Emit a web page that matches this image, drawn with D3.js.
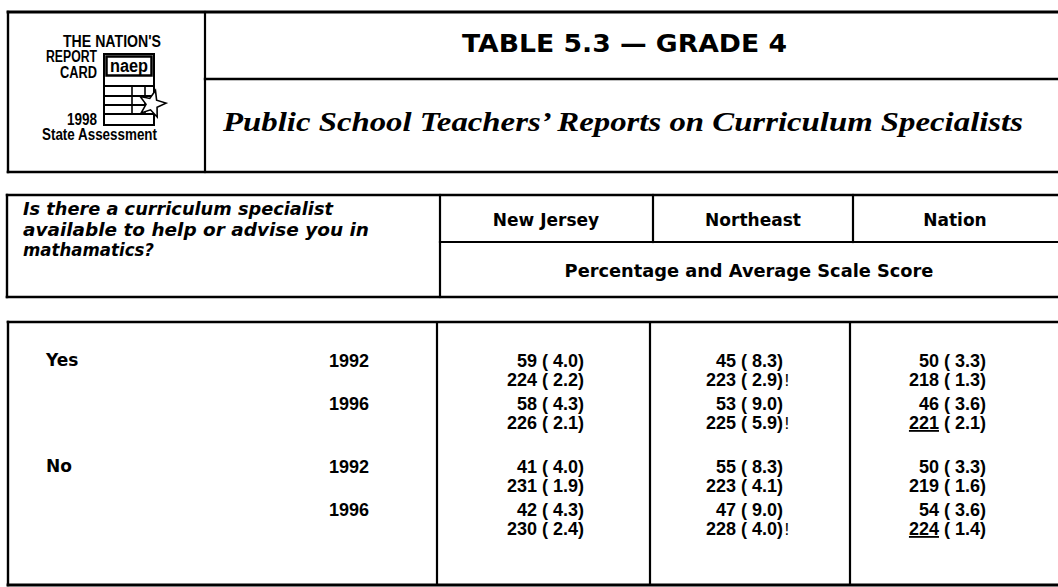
<!DOCTYPE html>
<html><head><meta charset="utf-8">
<script src="https://cdn.jsdelivr.net/npm/d3@7"></script>
<style>
html,body{margin:0;padding:0;background:#fff;}
svg{display:block;}
text{white-space:pre;fill:#000;}
</style>
</head><body>
<svg id="c" width="1058" height="587"></svg>
<script>
// ---------- data ----------
const title = "TABLE 5.3 — GRADE 4";
const subtitle = "Public School Teachers’ Reports on Curriculum Specialists";
const logoLines = ["THE NATION'S", "REPORT", "CARD", "1998", "State Assessment"];
const questionLines = ["Is there a curriculum specialist", "available to help or advise you in", "mathamatics?"];
const regions = ["New Jersey", "Northeast", "Nation"];
const measureLabel = "Percentage and Average Scale Score";
const responses = ["Yes", "No"];
const years = ["1992", "1996"];
// row order: Yes-1992, Yes-1996, No-1992, No-1996
const pctNJ     = [59, 58, 41, 42];
const pctSeNJ   = [4.0, 4.3, 4.0, 4.3];
const scoreNJ   = [224, 226, 231, 230];
const scoreSeNJ = [2.2, 2.1, 1.9, 2.4];
const pctNE     = [45, 53, 55, 47];
const pctSeNE   = [8.3, 9.0, 8.3, 9.0];
const scoreNE   = [223, 225, 223, 228];
const scoreSeNE = [2.9, 5.9, 4.1, 4.0];
const flagNE    = [true, true, false, true];
const pctNA     = [50, 46, 50, 54];
const pctSeNA   = [3.3, 3.6, 3.3, 3.6];
const scoreNA   = [218, 221, 219, 224];
const scoreSeNA = [1.3, 2.1, 1.6, 1.4];
const underlineNA = [false, true, false, true];

const rows = [];
responses.forEach(r => years.forEach(y => rows.push({resp: r, year: y})));
const none4 = [false, false, false, false];
const table = [
  {region: "New Jersey", pct: pctNJ, pctSe: pctSeNJ, score: scoreNJ, scoreSe: scoreSeNJ, flag: none4, under: none4},
  {region: "Northeast",  pct: pctNE, pctSe: pctSeNE, score: scoreNE, scoreSe: scoreSeNE, flag: flagNE, under: none4},
  {region: "Nation",     pct: pctNA, pctSe: pctSeNA, score: scoreNA, scoreSe: scoreSeNA, flag: none4, under: underlineNA}
];

// ---------- layout ----------
const W = 1058;
const svg = d3.select("#c");
const SANS = "'DejaVu Sans', sans-serif";
const ARIAL = "'Liberation Sans', Arial, sans-serif";
const SERIF = "'Liberation Serif', 'Times New Roman', serif";

function line(x1, y1, x2, y2, w) {
  svg.append("line").attr("x1", x1).attr("y1", y1).attr("x2", x2).attr("y2", y2)
    .attr("stroke", "#000").attr("stroke-width", w || 2.2).attr("stroke-linecap", "square");
}

// header box
line(8, 12, W, 12, 2.8);
line(8, 12, 8, 172, 2.4);
line(8, 172, W, 172, 2.6);
line(205, 12, 205, 172, 2.2);
line(205, 79, W, 79, 2.4);

// table header box
line(7, 195, W, 195, 2.4);
line(7, 195, 7, 297, 2.4);
line(7, 297, W, 297, 2.6);
line(440, 195, 440, 297, 2.2);
line(440, 242, W, 242, 2.2);

// body box
line(8, 322, W, 322, 2.6);
line(8, 322, 8, 585, 2.4);
line(8, 585, W, 585, 2.8);

// column scales
const headDivX = d3.scaleOrdinal().domain(regions.slice(1)).range([653, 853]);
const bodyDivX = d3.scaleOrdinal().domain(regions.slice(1)).range([650, 850]);
regions.slice(1).forEach(r => {
  line(headDivX(r), 195, headDivX(r), 242, 2.2);
  line(bodyDivX(r), 322, bodyDivX(r), 585, 2.2);
});
line(437, 322, 437, 585, 2.2);

const headCenter = d3.scaleOrdinal().domain(regions).range([546, 753, 955]);
const valRight = d3.scaleOrdinal().domain(regions).range([584, 783, 986]);
const yResp = d3.scalePoint().domain(responses).range([367, 473]);
const yYear = d3.scalePoint().domain(years).range([0, 43]);
const rowY = d => yResp(d.resp) + yYear(d.year);
const scoreOffset = 19;

// ---------- logo ----------
const logo = svg.append("g");
const logoPos = [
  {x: 161, y: 47, a: "end", len: 98},
  {x: 97, y: 62, a: "end", len: 51},
  {x: 97, y: 78, a: "end", len: 37},
  {x: 97, y: 125, a: "end", len: 30},
  {x: 42, y: 140, a: "start", len: 115}
];
logo.selectAll("text.logo").data(logoLines).join("text").attr("class", "logo")
  .attr("x", (d, i) => logoPos[i].x).attr("y", (d, i) => logoPos[i].y)
  .attr("text-anchor", (d, i) => logoPos[i].a)
  .attr("textLength", (d, i) => logoPos[i].len).attr("lengthAdjust", "spacingAndGlyphs")
  .style("font-family", ARIAL).style("font-weight", "bold").style("font-size", "16px")
  .text(d => d);
logo.append("rect").attr("x", 104).attr("y", 54).attr("width", 50).attr("height", 71)
  .attr("fill", "#fff").attr("stroke", "#000").attr("stroke-width", 2);
logo.append("rect").attr("x", 106.5).attr("y", 56.5).attr("width", 45).attr("height", 19)
  .attr("fill", "#fff").attr("stroke", "#000").attr("stroke-width", 2.5);
logo.append("text").attr("x", 129).attr("y", 72).attr("text-anchor", "middle")
  .attr("textLength", 38).attr("lengthAdjust", "spacingAndGlyphs")
  .style("font-family", ARIAL).style("font-weight", "900").style("font-size", "18px").text("naep");
[86, 96, 105, 114].forEach(y => logo.append("line").attr("x1", 104).attr("x2", 154)
  .attr("y1", y).attr("y2", y).attr("stroke", "#000").attr("stroke-width", 2));
[132, 145].forEach(x => logo.append("line").attr("x1", x).attr("x2", x)
  .attr("y1", 86).attr("y2", 114).attr("stroke", "#000").attr("stroke-width", 1.6));
const star = d3.range(10).map(i => {
  const ang = -Math.PI / 2 + i * Math.PI / 5 + 0.25;
  const rr = i % 2 ? 6 : 14;
  return [152 + rr * Math.cos(ang), 104 + rr * Math.sin(ang)];
});
logo.append("polygon").attr("points", star.map(p => p.join(",")).join(" "))
  .attr("fill", "#fff").attr("stroke", "#000").attr("stroke-width", 1.6);

// ---------- titles ----------
svg.append("text").attr("x", 462).attr("y", 52)
  .attr("textLength", 325).attr("lengthAdjust", "spacingAndGlyphs")
  .style("font-family", SANS).style("font-weight", "bold").style("font-size", "24px").text(title);
svg.append("text").attr("x", 223).attr("y", 131)
  .attr("textLength", 800).attr("lengthAdjust", "spacingAndGlyphs")
  .style("font-family", SERIF).style("font-weight", "bold").style("font-style", "italic")
  .style("font-size", "28px").text(subtitle);

// ---------- column headers ----------
const qLen = [310, 346, 131];
svg.selectAll("text.q").data(questionLines).join("text").attr("class", "q")
  .attr("x", 23).attr("y", (d, i) => 215 + i * 20.5)
  .attr("textLength", (d, i) => qLen[i]).attr("lengthAdjust", "spacingAndGlyphs")
  .style("font-family", SANS).style("font-weight", "bold").style("font-style", "italic")
  .style("font-size", "17.5px").text(d => d);
svg.selectAll("text.reg").data(regions).join("text").attr("class", "reg")
  .attr("x", d => headCenter(d)).attr("y", 226).attr("text-anchor", "middle")
  .style("font-family", SANS).style("font-weight", "bold").style("font-size", "17px").text(d => d);
svg.append("text").attr("x", 749).attr("y", 277).attr("text-anchor", "middle")
  .style("font-family", SANS).style("font-weight", "bold").style("font-size", "17.8px").text(measureLabel);

// ---------- row labels ----------
svg.selectAll("text.resp").data(responses).join("text").attr("class", "resp")
  .attr("x", 46).attr("y", d => yResp(d) - 1)
  .style("font-family", SANS).style("font-weight", "bold").style("font-size", "17px").text(d => d);
svg.selectAll("text.yr").data(rows).join("text").attr("class", "yr")
  .attr("x", 369).attr("y", d => rowY(d))
  .attr("text-anchor", "end")
  .style("font-family", ARIAL).style("font-weight", "bold").style("font-size", "18px").text(d => d.year);

// ---------- values ----------
const fmtSe = v => " (" + (v < 10 ? " " : "") + v.toFixed(1) + ")";
table.forEach(col => {
  const g = svg.append("g");
  rows.forEach((r, i) => {
    const y = rowY(r);
    const x = valRight(col.region);
    g.append("text").attr("x", x).attr("y", y).attr("text-anchor", "end")
      .style("font-family", ARIAL).style("font-weight", "bold").style("font-size", "18px")
      .text(col.pct[i] + fmtSe(col.pctSe[i]));
    const t = g.append("text").attr("x", x).attr("y", y + scoreOffset).attr("text-anchor", "end")
      .style("font-family", ARIAL).style("font-weight", "bold").style("font-size", "18px");
    t.append("tspan").style("text-decoration", col.under[i] ? "underline" : "none").text(String(col.score[i]));
    t.append("tspan").text(fmtSe(col.scoreSe[i]));
    if (col.flag[i]) {
      g.append("text").attr("x", x + 1.5).attr("y", y + scoreOffset)
        .style("font-family", ARIAL).style("font-size", "17px").text("!");
    }
  });
});
</script>
</body></html>
